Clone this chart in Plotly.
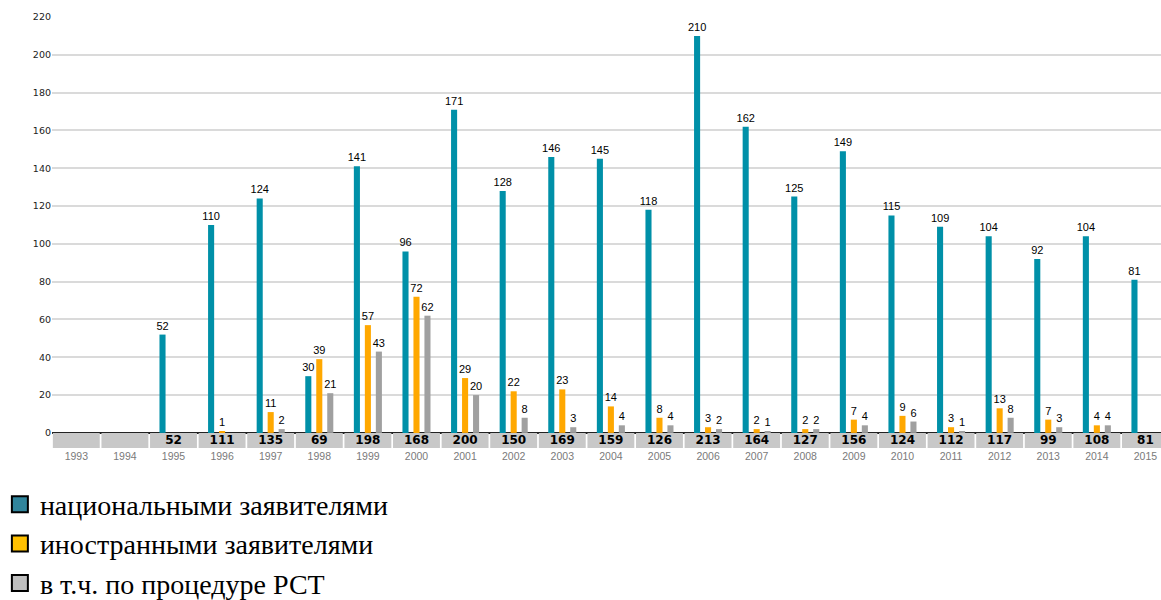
import plotly.graph_objects as go

years = [str(y) for y in range(1993, 2016)]
national = [None, None, 52, 110, 124, 30, 141, 96, 171, 128, 146, 145, 118, 210, 162, 125, 149, 115, 109, 104, 92, 104, 81]
foreign = [None, None, None, 1, 11, 39, 57, 72, 29, 22, 23, 14, 8, 3, 2, 2, 7, 9, 3, 13, 7, 4, None]
pct = [None, None, None, None, 2, 21, 43, 62, 20, 8, 3, 4, 4, 2, 1, 2, 4, 6, 1, 8, 3, 4, None]
totals = [None, None, 52, 111, 135, 69, 198, 168, 200, 150, 169, 159, 126, 213, 164, 127, 156, 124, 112, 117, 99, 108, 81]

names = ["национальными заявителями", "иностранными заявителями", "в т.ч. по процедуре РСТ"]
bar_colors = ["#0090A8", "#FFA800", "#A0A0A0"]
legend_colors = ["#31859C", "#FFC000", "#BFBFBF"]

BAND = 8  # depth of the totals band below zero (axis units)

fig = go.Figure()

# totals band under the zero line
fig.add_trace(go.Bar(
    x=years, y=[BAND] * len(years), base=[-BAND] * len(years),
    width=0.965, offset=-0.4825,
    marker=dict(color="#C8C8C8", line=dict(width=0)),
    text=["" if t is None else str(t) for t in totals],
    textposition="inside", insidetextanchor="middle", textangle=0,
    constraintext="none",
    insidetextfont=dict(family="DejaVu Sans", size=12, color="black", weight="bold"),
    showlegend=False, hoverinfo="skip",
))

w = 0.125
step = 0.226
for i, (vals, col) in enumerate(zip([national, foreign, pct], bar_colors)):
    center = (i - 1) * step
    fig.add_trace(go.Bar(
        x=years, y=vals, width=w, offset=center - w / 2,
        marker=dict(color=col, line=dict(width=0)),
        text=["" if v is None else str(v) for v in vals],
        textposition="outside", textangle=0, constraintext="none",
        outsidetextfont=dict(family="Liberation Sans", size=11, color="black"),
        cliponaxis=False, showlegend=False, name=names[i],
    ))

for name, col in zip(names, legend_colors):
    fig.add_trace(go.Scatter(
        x=[None], y=[None], mode="markers", name=name,
        marker=dict(symbol="square", size=16, color=col, line=dict(color="black", width=2)),
    ))

fig.update_layout(
    width=1161, height=600,
    margin=dict(l=52, r=0, t=17, b=152, autoexpand=False),
    plot_bgcolor="white", paper_bgcolor="white",
    barmode="overlay",
    showlegend=True,
    legend=dict(
        x=-0.047, y=-0.073, xanchor="left", yanchor="top",
        font=dict(family="Liberation Serif", size=28, color="black"),
        bgcolor="rgba(0,0,0,0)", itemclick=False, tracegroupgap=0,
    ),
    xaxis=dict(
        type="category", range=[-0.5, 22.32],
        showgrid=False, showline=False, zeroline=False, ticks="",
        tickfont=dict(family="Liberation Sans", size=10.5, color="#7a7a7a"),
        fixedrange=True,
    ),
    yaxis=dict(
        range=[-BAND, 220], tickvals=list(range(0, 221, 20)),
        showgrid=True, gridcolor="#DADADA", gridwidth=1.5,
        zeroline=True, zerolinecolor="#222222", zerolinewidth=1.5,
        showline=False, ticks="",
        tickfont=dict(family="DejaVu Sans", size=9.5, color="#222222"),
        fixedrange=True,
    ),
)

fig.write_html("out.html")
